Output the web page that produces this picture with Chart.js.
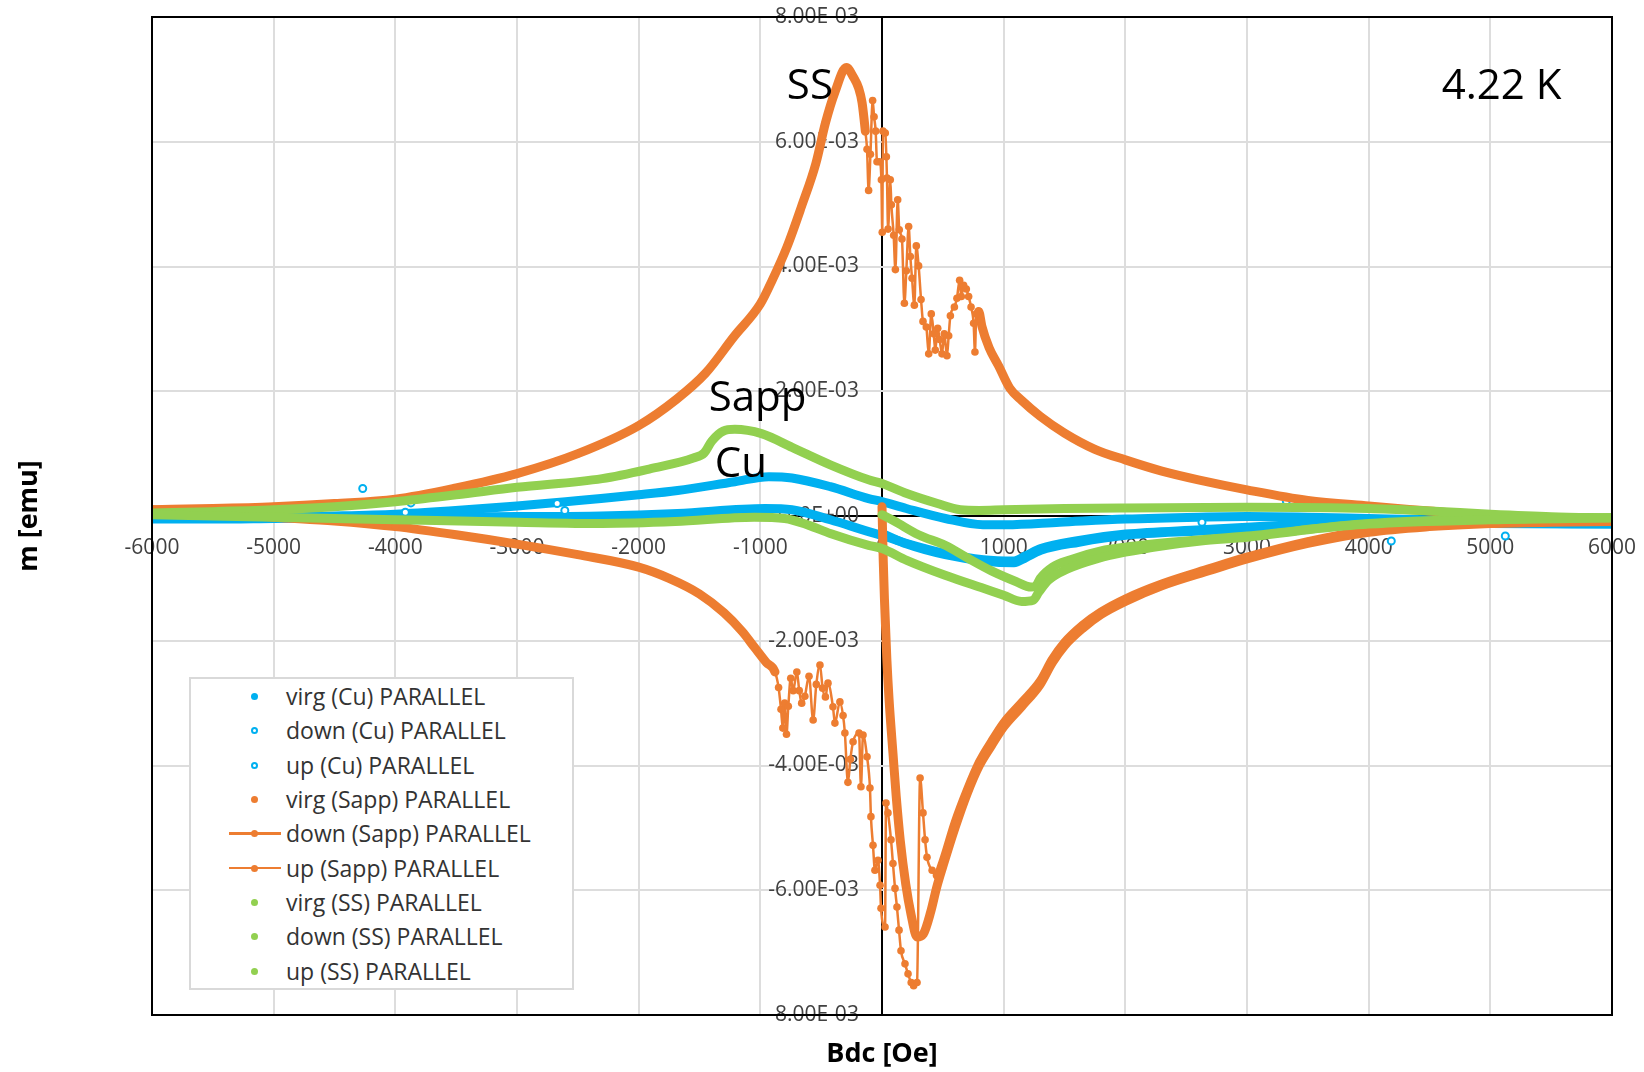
<!DOCTYPE html>
<html>
<head>
<meta charset="utf-8">
<title>m vs Bdc, 4.22 K</title>
<script src="https://cdn.jsdelivr.net/npm/chart.js@4/dist/chart.umd.min.js"></script>
<style>
  html, body { margin: 0; padding: 0; background: #fff; }
  #wrap { position: relative; width: 1644px; height: 1072px; }
  #legend {
    position: absolute; left: 189px; top: 677px;
    width: 381px; height: 309px;
    border: 2px solid #d9d9d9; background: #fff;
    font: 23px "Open Sans", sans-serif; color: #333;
  }
  #legend .row { position: relative; height: 34.33px; line-height: 34.33px; padding-left: 95px; white-space: nowrap; }
  #legend .dot, #legend .ring { position: absolute; left: 60px; top: 50%; width: 7px; height: 7px; margin-top: -3px; border-radius: 50%; box-sizing: border-box; }
  #legend .ring { background: #fff; border: 2px solid; }
  #legend .ln { position: absolute; left: 38px; top: 50%; width: 52px; height: 2.5px; margin-top: -1px; }
</style>
</head>
<body>
<div id="wrap">
  <canvas id="chart" width="1644" height="1072"></canvas>
  <div id="legend"></div>
</div>
<script>
// field in Oe, moment in 1e-3 emu (axis labels carry the E-03)
var xTicks = [-6000, -5000, -4000, -3000, -2000, -1000, 0, 1000, 2000, 3000, 4000, 5000, 6000];
var xTickLabels = ['-6000', '-5000', '-4000', '-3000', '-2000', '-1000', '0', '1000', '2000', '3000', '4000', '5000', '6000'];
var yTicks = [-8, -6, -4, -2, 0, 2, 4, 6, 8];
var yTickLabels = ['-8.00E-03', '-6.00E-03', '-4.00E-03', '-2.00E-03', '0.00E+00', '2.00E-03', '4.00E-03', '6.00E-03', '8.00E-03'];

var seriesNames = [
  'virg (Cu) PARALLEL', 'down (Cu) PARALLEL', 'up (Cu) PARALLEL',
  'virg (Sapp) PARALLEL', 'down (Sapp) PARALLEL', 'up (Sapp) PARALLEL',
  'virg (SS) PARALLEL', 'down (SS) PARALLEL', 'up (SS) PARALLEL'
];

// Cu
var cuVirg = [[0,-0.28],[204,-0.45],[519,-0.62],[833,-0.72],[1085,-0.75],[1179,-0.67],[1305,-0.55],[1619,-0.42],
  [2003,-0.31],[2620,-0.24],[3000,-0.20],[3500,-0.15],[4000,-0.11],[4500,-0.10],[5000,-0.12],[6000,-0.13]];
var cuDown = [[6000,-0.12],[5500,-0.11],[5000,-0.09],[4500,-0.06],[4000,-0.04],[3500,-0.02],[3000,-0.01],[2600,-0.02],
  [2000,-0.05],[1460,-0.10],[1020,-0.14],[830,-0.14],[520,-0.04],[200,0.12],[0,0.23],[-110,0.28],[-425,0.47],
  [-740,0.61],[-930,0.63],[-1210,0.55],[-1680,0.41],[-2000,0.34],[-2310,0.28],[-2600,0.23],[-3000,0.16],
  [-3560,0.08],[-4000,0.03],[-4500,0.00],[-5000,-0.02],[-5500,-0.03],[-6000,-0.03]];
var cuDownStray = [[3323,0.24],[-2670,0.20],[-4268,0.44]];
var cuUp = [[-6000,-0.05],[-5500,-0.05],[-5000,-0.04],[-4500,-0.03],[-4000,-0.02],[-3000,-0.01],[-2310,0.00],
  [-1680,0.04],[-960,0.12],[-740,0.10],[-425,-0.06],[-110,-0.25],[0,-0.31],[204,-0.44],[519,-0.60],[833,-0.70],
  [1085,-0.72],[1179,-0.64],[1305,-0.52],[1619,-0.39],[2003,-0.29],[2620,-0.22],[3000,-0.18],[3500,-0.13],
  [4000,-0.09],[4500,-0.09],[5000,-0.11],[6000,-0.13]];
var cuUpStray = [[-3872,0.21],[-3918,0.06],[-2607,0.09],[2630,-0.10],[4186,-0.40],[5123,-0.32]];

// Sapp
var sappVirg = [[0,0.15],[10,-0.70],[20,-1.33],[40,-2.30],[58,-2.94],[90,-3.80],[117,-4.50],[150,-5.20],[195,-5.90],
  [240,-6.40],[288,-6.75],[340,-6.70],[400,-6.35],[450,-5.95],[500,-5.62],[600,-5.00],[700,-4.45],[800,-4.00],
  [900,-3.68],[1000,-3.38],[1150,-3.05],[1300,-2.70],[1400,-2.35],[1500,-2.08],[1650,-1.80],[1800,-1.58],
  [2000,-1.37],[2300,-1.12],[2700,-0.87],[3000,-0.69],[3500,-0.44],[4000,-0.26],[4500,-0.17],[5000,-0.12],
  [5500,-0.10],[6000,-0.09]];
var sappDown = [[6000,-0.08],[5500,-0.05],[5000,0.00],[4500,0.08],[4000,0.16],[3500,0.25],[3000,0.42],[2600,0.58],
  [2300,0.72],[2000,0.90],[1750,1.07],[1500,1.33],[1300,1.60],[1150,1.85],[1050,2.05],[960,2.40],[880,2.70],
  [820,3.05],[795,3.28],[775,3.24],[764,2.63],[753,3.09],[732,3.35],[712,3.52],[693,3.64],[671,3.70],[652,3.52],
  [638,3.78],[616,3.49],[595,3.35],[562,3.21],[548,2.89],[534,2.57],[512,2.92],[493,2.60],[474,2.83],[458,3.01],
  [438,2.66],[425,2.92],[405,3.24],[384,2.60],[364,3.03],[337,3.12],[321,3.47],[301,4.01],[282,4.33],[266,3.38],
  [247,3.81],[233,4.16],[219,4.64],[200,3.93],[184,3.41],[164,4.44],[142,4.59],[129,5.07],[110,3.95],[96,4.50],
  [77,4.99],[68,5.39],[50,4.60],[41,5.42],[36,5.76],[27,6.14],[8,6.17],[2,4.55],[-5,5.39],[-20,5.68],[-41,5.68],
  [-52,6.17],[-65,6.40],[-77,6.66],[-95,5.80],[-110,5.22],[-123,5.88],[-137,6.17],[-164,6.63],[-192,6.86],
  [-233,7.03],[-293,7.19],[-386,6.80],[-465,6.30],[-544,5.65],[-662,4.96],[-780,4.32],[-900,3.79],[-1000,3.40],
  [-1215,2.88],[-1450,2.29],[-1690,1.87],[-2000,1.45],[-2500,1.00],[-3000,0.68],[-3500,0.45],[-4000,0.27],
  [-4500,0.20],[-5000,0.15],[-5500,0.12],[-6000,0.10]];
var sappUp = [[-6000,0.10],[-5500,0.05],[-5000,-0.02],[-4500,-0.08],[-4000,-0.17],[-3500,-0.30],[-3000,-0.45],
  [-2500,-0.62],[-2000,-0.82],[-1750,-1.00],[-1500,-1.25],[-1300,-1.55],[-1150,-1.85],[-1050,-2.10],[-950,-2.35],
  [-880,-2.50],[-850,-2.75],[-830,-3.10],[-815,-3.40],[-800,-3.00],[-785,-3.50],[-770,-3.05],[-750,-2.60],
  [-730,-2.80],[-700,-2.50],[-680,-2.80],[-660,-3.00],[-634,-2.89],[-600,-2.57],[-566,-3.27],[-540,-2.70],
  [-510,-2.39],[-488,-2.76],[-465,-2.90],[-444,-2.68],[-403,-3.06],[-387,-3.32],[-346,-2.98],[-320,-3.20],
  [-305,-3.48],[-280,-4.27],[-260,-3.90],[-238,-3.62],[-189,-3.48],[-173,-4.34],[-156,-3.51],[-123,-3.86],
  [-99,-4.36],[-91,-4.82],[-74,-5.28],[-58,-5.68],[-33,-5.52],[-16,-5.92],[-8,-6.29],[25,-6.59],[33,-4.60],
  [49,-4.76],[74,-5.19],[90,-5.57],[107,-5.97],[123,-6.27],[140,-6.64],[156,-6.97],[189,-7.18],[214,-7.34],
  [240,-7.48],[260,-7.53],[288,-7.48],[313,-4.20],[337,-4.76],[354,-5.19],[370,-5.47],[412,-5.68],[453,-5.76],
  [500,-5.55],[600,-4.92],[700,-4.40],[800,-3.95],[900,-3.62],[1000,-3.32],[1150,-2.99],[1300,-2.65],
  [1400,-2.30],[1500,-2.03],[1650,-1.75],[1800,-1.54],[2000,-1.33],[2300,-1.09],[2700,-0.84],[3000,-0.66],
  [3500,-0.41],[4000,-0.23],[4500,-0.15],[5000,-0.10],[5500,-0.09],[6000,-0.08]];

// SS
var ssVirg = [[0,0.02],[100,-0.08],[300,-0.30],[519,-0.47],[700,-0.67],[900,-0.88],[1100,-1.05],[1226,-1.14],
  [1265,-1.12],[1300,-1.00],[1400,-0.82],[1550,-0.70],[1800,-0.56],[2000,-0.50],[2500,-0.40],[3000,-0.32],
  [4000,-0.12],[5000,-0.05],[6000,-0.03]];
var ssDown = [[6000,-0.03],[5500,-0.01],[5000,0.03],[4500,0.08],[4000,0.12],[3000,0.14],[2000,0.13],[1500,0.12],
  [1000,0.10],[800,0.09],[645,0.10],[456,0.20],[204,0.36],[0,0.52],[-110,0.58],[-425,0.82],[-739,1.10],
  [-990,1.32],[-1210,1.39],[-1305,1.36],[-1399,1.20],[-1462,1.01],[-1550,0.93],[-1900,0.76],[-2300,0.60],
  [-3000,0.46],[-3500,0.34],[-4000,0.23],[-4500,0.15],[-5000,0.10],[-5500,0.07],[-6000,0.05]];
var ssUp = [[-6000,0.02],[-5000,-0.02],[-4000,-0.06],[-3000,-0.10],[-2300,-0.12],[-1700,-0.09],[-1050,-0.02],
  [-800,-0.04],[-600,-0.15],[-425,-0.28],[-110,-0.47],[0,-0.52],[204,-0.71],[519,-0.95],[833,-1.16],[1000,-1.27],
  [1148,-1.37],[1242,-1.35],[1289,-1.22],[1368,-1.03],[1525,-0.85],[1777,-0.68],[2000,-0.58],[2300,-0.48],
  [2620,-0.40],[3000,-0.34],[3500,-0.22],[4000,-0.13],[5000,-0.06],[6000,-0.03]];

// text written on the plot, anchored in data units (left end of baseline)
var notes = [
  { text: 'SS', x: -782, y: 6.69 },
  { text: 'Sapp', x: -1424, y: 1.69 },
  { text: 'Cu', x: -1374, y: 0.63 },
  { text: '4.22 K', x: 4601, y: 6.69 }
];

var BLUE = '#00B0F0', ORANGE = '#ED7D31', GREEN = '#92D050';
var BAND = 9;            // dense markers read as a solid band
var Y_LABEL_X = -190;    // y labels end just left of the zero line
var SAPP_DOWN_JUMPS = [-160, 800];  // flux-jump stretch, drawn as thin line with dots
var SAPP_UP_JUMPS = [-900, 460];

function pts(arr) {
  return arr.map(function (p) { return { x: p[0], y: p[1] }; });
}

function band(i, color, data, key) {
  return {
    label: seriesNames[i], data: pts(data), showLine: true,
    borderColor: color, backgroundColor: color, borderWidth: BAND,
    borderCapStyle: 'round', borderJoinStyle: 'round',
    cubicInterpolationMode: 'monotone',
    pointRadius: 0, order: 8 - i, key: key || 'dot'
  };
}

function withStrays(ds, strays) {
  var n = ds.data.length, color = ds.borderColor;
  ds.data = ds.data.concat(pts(strays));
  ds.segment = { borderColor: function (c) { return c.p1DataIndex >= n ? 'rgba(0,0,0,0)' : color; } };
  ds.pointRadius = function (c) { return c.dataIndex >= n ? 3.5 : 0; };
  ds.pointBackgroundColor = '#fff';
  ds.pointBorderColor = color;
  ds.pointBorderWidth = 2;
  ds.key = 'ring';
  return ds;
}

function jumpy(i, data, range) {
  var inside = function (x) { return x >= range[0] && x <= range[1]; };
  var ds = band(i, ORANGE, data, 'line');
  ds.pointRadius = 3.8;
  ds.pointBackgroundColor = ORANGE;
  ds.pointBorderWidth = 0;
  ds.segment = {
    borderWidth: function (c) { return inside(c.p0.parsed.x) && inside(c.p1.parsed.x) ? 2.5 : BAND; }
  };
  return ds;
}

var datasets = [
  band(0, BLUE, cuVirg),
  withStrays(band(1, BLUE, cuDown), cuDownStray),
  withStrays(band(2, BLUE, cuUp), cuUpStray),
  band(3, ORANGE, sappVirg),
  jumpy(4, sappDown, SAPP_DOWN_JUMPS),
  jumpy(5, sappUp, SAPP_UP_JUMPS),
  band(6, GREEN, ssVirg),
  band(7, GREEN, ssDown),
  band(8, GREEN, ssUp)
];

// plot frame and the free text
var framePlugin = {
  id: 'frame',
  afterDatasetsDraw: function (chart) {
    var ctx = chart.ctx, sx = chart.scales.x, sy = chart.scales.y;
    ctx.save();
    ctx.fillStyle = '#000';
    ctx.font = '42px "Open Sans"';
    ctx.textBaseline = 'alphabetic';
    notes.forEach(function (n) {
      ctx.fillText(n.text, sx.getPixelForValue(n.x), sy.getPixelForValue(n.y));
    });
    ctx.restore();
  },
  afterDraw: function (chart) {
    var a = chart.chartArea, ctx = chart.ctx;
    ctx.save();
    ctx.strokeStyle = '#000';
    ctx.lineWidth = 2;
    ctx.strokeRect(a.left, a.top, a.right - a.left, a.bottom - a.top);
    ctx.restore();
  }
};

Chart.defaults.font.family = '"Open Sans", sans-serif';

var zeroBlack = function (c) { return c.tick && c.tick.value === 0 ? '#000' : '#dddddd'; };

var chart = new Chart(document.getElementById('chart'), {
  type: 'scatter',
  data: { datasets: datasets },
  options: {
    responsive: false,
    animation: false,
    layout: { padding: { top: 17, right: 32, bottom: 0, left: 0 } },
    plugins: {
      legend: { display: false },
      tooltip: { enabled: false },
      title: {
        display: true, text: 'm [emu]', position: 'left', fullSize: false,
        color: '#000', font: { size: 27, weight: 'bold' }, padding: { top: 13, bottom: 106.6 }
      },
      subtitle: {
        display: true, text: 'Bdc [Oe]', position: 'bottom', fullSize: false,
        color: '#000', font: { size: 27, weight: 'bold' }, padding: { top: 23, bottom: 1.6 }
      }
    },
    scales: {
      x: {
        type: 'linear', min: -6000, max: 6000,
        position: { y: 0 },
        afterBuildTicks: function (s) { s.ticks = xTicks.map(function (v) { return { value: v }; }); },
        afterFit: function (s) { s.height = 0; s.paddingLeft = 0; s.paddingRight = 0; },
        grid: { color: zeroBlack, lineWidth: 2, drawTicks: false },
        border: { display: false },
        ticks: {
          padding: 19, autoSkip: false, maxRotation: 0, color: '#404040', font: { size: 21 },
          callback: function (v, i) { return xTickLabels[i]; }
        }
      },
      y: {
        type: 'linear', min: -8, max: 8,
        position: { x: Y_LABEL_X },
        afterBuildTicks: function (s) { s.ticks = yTicks.map(function (v) { return { value: v }; }); },
        afterFit: function (s) { s.width = 0; s.paddingTop = 0; s.paddingBottom = 0; },
        grid: { color: zeroBlack, lineWidth: 2, drawTicks: false },
        border: { display: false },
        ticks: {
          padding: 0, autoSkip: false, color: '#404040', font: { size: 21 },
          callback: function (v, i) { return yTickLabels[i]; }
        }
      }
    }
  },
  plugins: [framePlugin]
});

// legend box in the lower left of the plot
var legendBox = document.getElementById('legend');
chart.data.datasets.forEach(function (ds) {
  var row = document.createElement('div');
  row.className = 'row';
  if (ds.key === 'line') {
    var ln = document.createElement('span');
    ln.className = 'ln';
    ln.style.background = ds.borderColor;
    row.appendChild(ln);
  }
  var mk = document.createElement('span');
  mk.className = ds.key === 'ring' ? 'ring' : 'dot';
  if (ds.key === 'ring') mk.style.borderColor = ds.borderColor;
  else mk.style.background = ds.borderColor;
  row.appendChild(mk);
  row.appendChild(document.createTextNode(ds.label));
  legendBox.appendChild(row);
});
</script>
</body>
</html>
